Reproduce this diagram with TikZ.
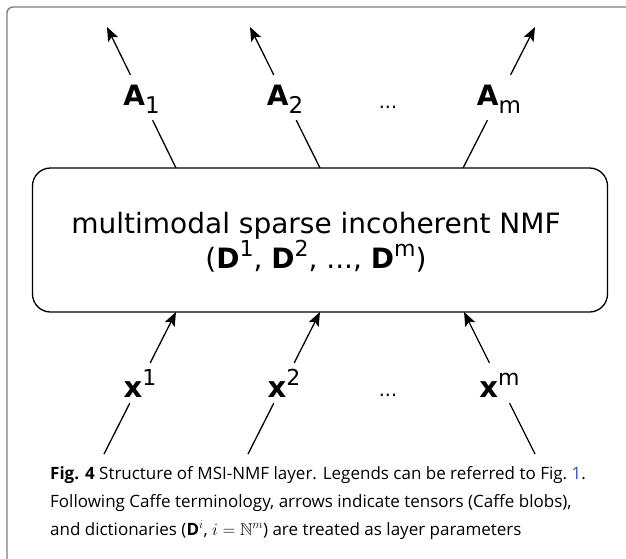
\documentclass[tikz,border=0pt]{standalone}
\usepackage{fontspec}
\usepackage{amssymb}
\usetikzlibrary{arrows.meta}
\newfontfamily\dfont{DejaVu Sans}
\newfontfamily\capfont{Open Sans}
\definecolor{framegray}{RGB}{125,125,125}
\definecolor{linkblue}{RGB}{45,75,210}
% raised / lowered indices in the diagram font
\newcommand{\upidx}[1]{\raisebox{12pt}{\fontsize{22}{22}\selectfont #1}}
\newcommand{\loidx}[1]{\raisebox{-8pt}{\fontsize{23}{23}\selectfont #1}}
\begin{document}
\begin{tikzpicture}[x=1pt,y=-1pt,
  wire/.style={line width=1.3pt},
  flow/.style={wire,-{Stealth[length=14pt,width=11pt,inset=3pt]}},
  outlab/.style={font=\dfont\fontsize{28}{28}\selectfont, inner sep=0pt,
    minimum width=40pt, minimum height=45pt, text height=20pt, text depth=5pt},
  inlab/.style={font=\dfont\fontsize{29}{29}\selectfont, inner sep=0pt,
    minimum width=40pt, minimum height=40pt, text height=30pt, text depth=2pt},
  dots/.style={font=\dfont\fontsize{19}{19}\selectfont, inner sep=0pt, anchor=base},
  layerbox/.style={wire, draw, rounded corners=18pt, minimum width=575pt,
    minimum height=144pt, inner sep=0pt},
  boxtext/.style={anchor=base, inner sep=0pt, font=\dfont\fontsize{28}{28}\selectfont},
  capline/.style={anchor=base west, inner sep=0pt,
    font=\capfont\fontsize{17}{17}\selectfont},
  frame/.style={draw=framegray, line width=1.4pt, rounded corners=6pt}
]
\useasboundingbox (0,0) rectangle (626,558);

% outer panel frame
\draw[frame] (7,570) -- (7,7) -- (640,7);

% the layer
\node[layerbox] (nmf) at (320,240) {};
\node[boxtext] (title) at (316,233) {multimodal sparse incoherent NMF};
\node[boxtext] (params) at (316,268)
  {({\bfseries D}\upidx{1}, {\bfseries D}\upidx{2}, ..., {\bfseries D}\upidx{m})};

% outputs
\coordinate (p1) at (176,168);
\coordinate (p2) at (320,168);
\coordinate (p3) at (463,168);
\coordinate (t1) at (107,27);
\coordinate (t2) at (250,27);
\coordinate (t3) at (535,27);
\node[outlab] (a1) at (141.5,97.5) {{\bfseries A}\loidx{1}};
\node[outlab] (a2) at (285,97.5) {{\bfseries A}\loidx{2}};
\node[outlab] (am) at (499,97.5) {{\bfseries A}\loidx{m}};
\node[dots] (adots) at (388,108) {...};
\draw[wire] (p1) -- (a1);
\draw[flow] (a1) -- (t1);
\draw[wire] (p2) -- (a2);
\draw[flow] (a2) -- (t2);
\draw[wire] (p3) -- (am);
\draw[flow] (am) -- (t3);

% inputs
\coordinate (e1) at (104,454);
\coordinate (e2) at (248,454);
\coordinate (e3) at (535,454);
\coordinate (q1) at (176,312);
\coordinate (q2) at (320,312);
\coordinate (q3) at (464,312);
\node[inlab] (x1) at (140,383) {{\bfseries x}\upidx{1}};
\node[inlab] (x2) at (284,383) {{\bfseries x}\upidx{2}};
\node[inlab] (xm) at (499.5,383) {{\bfseries x}\upidx{m}};
\node[dots] (xdots) at (388,396) {...};
\draw[wire] (e1) -- (x1);
\draw[flow] (x1) -- (q1);
\draw[wire] (e2) -- (x2);
\draw[flow] (x2) -- (q2);
\draw[wire] (e3) -- (xm);
\draw[flow] (xm) -- (q3);

% caption
\node[capline] (cap1) at (50,479)
  {\textbf{Fig. 4} Structure of MSI-NMF layer. Legends can be referred to Fig.~\textcolor{linkblue}{1}.};
\node[capline] (cap2) at (50,507)
  {Following Caffe terminology, arrows indicate tensors (Caffe blobs),};
\node[capline] (cap3) at (50,535)
  {and dictionaries (\textbf{D}$^{i}$, $i=\mathbb{N}^{m}$) are treated as layer parameters};
\end{tikzpicture}
\end{document}
